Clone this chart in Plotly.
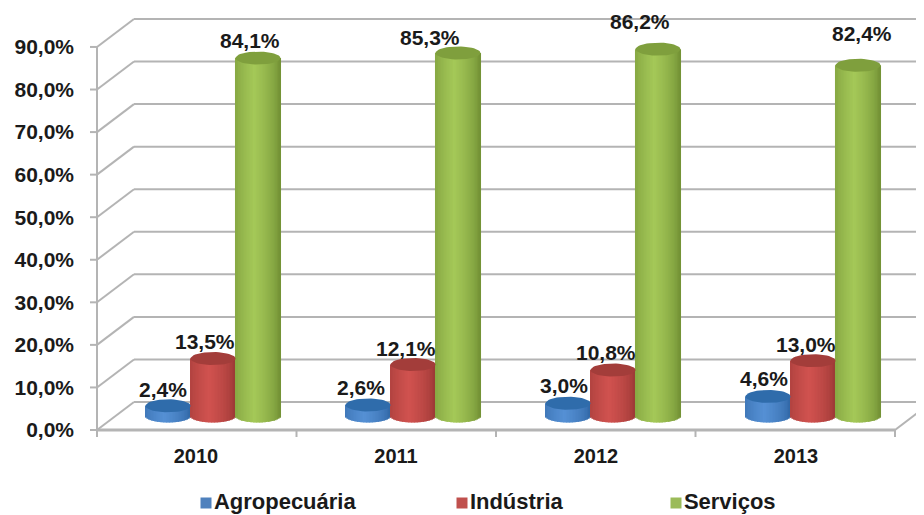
import math
import plotly.graph_objects as go

years = ["2010", "2011", "2012", "2013"]
agropecuaria = [2.4, 2.6, 3.0, 4.6]
industria = [13.5, 12.1, 10.8, 13.0]
servicos = [84.1, 85.3, 86.2, 82.4]
y_ticks = [0, 10, 20, 30, 40, 50, 60, 70, 80, 90]
y_tick_labels = ["0,0%", "10,0%", "20,0%", "30,0%", "40,0%", "50,0%", "60,0%", "70,0%", "80,0%", "90,0%"]

# The page has an 8px body margin, so the figure is 8px smaller than the window
W, H = 916, 507
PX_PER_PCT = 4.256          # vertical pixels per percentage point
PX_PER_CAT = 200.0          # horizontal pixels per category
ZERO_PX = 422
CAT0_PX = 188
dx = lambda px: px / PX_PER_CAT
dy = lambda px: px / PX_PER_PCT

FONT = "Liberation Sans"
TXT = "#1a1a1a"
GRID = "#b4b4b4"

DEPTH_X, DEPTH_Y = dx(37), dy(28)
LEFT = dx(-99)
RIGHT = dx(699)
EDGE = dx(W - CAT0_PX)

BASE = dy(ZERO_PX - 408)
SCALE = 1.0
RX, RY = dx(22.5), dy(6.5)
N = 30

series = [
    dict(name="Agropecuária", vals=agropecuaria, off=dx(-28), edge="#2c62a0", mid="#5590d4", cap="#2f6cab", sw="#4f81bd",
         key_x=dx(10), nudges=[(-5, 3), (-7, 4), (-4, 4), (-4, 4)]),
    dict(name="Indústria", vals=industria, off=dx(17), edge="#953532", mid="#d0524f", cap="#a33d3a", sw="#c0504d",
         key_x=dx(266), nudges=[(-8, 4), (-7, 3), (-7, 4), (-7, 3)]),
    dict(name="Serviços", vals=servicos, off=dx(62), edge="#6c8a30", mid="#a4c858", cap="#7f9f3d", sw="#9bbb59",
         key_x=dx(480), nudges=[(-8, 4), (-28, 2), (-18, 14), (4, 18)]),
]
KEY_Y = dy(ZERO_PX - 495)


def hex2rgb(h):
    return [int(h[i:i + 2], 16) for i in (1, 3, 5)]


def shade(c1, c2, t):
    a, b = hex2rgb(c1), hex2rgb(c2)
    return "rgb(%d,%d,%d)" % tuple(round(a[i] + (b[i] - a[i]) * t) for i in range(3))


fig = go.Figure()

for s in series:
    for k in range(N):
        u = (k + 0.5) / N * 2 - 1
        t = max(0.0, 1 - abs(u + 0.15) / 1.15) ** 0.55
        foot = RY * math.sqrt(max(0.0, 1 - u * u))
        bases = [BASE - foot] * 4
        tops = [BASE + SCALE * v for v in s["vals"]]
        fig.add_trace(go.Bar(
            x=[i + s["off"] + u * RX for i in range(4)],
            y=[tp - b for tp, b in zip(tops, bases)],
            base=bases,
            width=2 * RX / N * 1.7,
            marker=dict(color=shade(s["edge"], s["mid"], t), line=dict(width=0)),
            showlegend=False, hoverinfo="skip",
        ))

for s in series:
    for i, v in enumerate(s["vals"]):
        tp = BASE + SCALE * v
        pts = [j / 48 * 2 * math.pi for j in range(49)]
        fig.add_trace(go.Scatter(
            x=[i + s["off"] + RX * math.cos(a) for a in pts],
            y=[tp + RY * math.sin(a) for a in pts],
            mode="lines", fill="toself", fillcolor=s["cap"],
            line=dict(width=0, color=s["cap"]),
            showlegend=False, hoverinfo="skip",
        ))

BOLD = dict(family=FONT, color=TXT, weight=700)

for s in series:
    fig.add_trace(go.Scatter(
        x=[s["key_x"]], y=[KEY_Y], mode="markers+text", name=s["name"],
        text=[s["name"]], textposition="middle right",
        textfont=dict(size=22, **BOLD),
        marker=dict(symbol="square", size=11, color=s["sw"]),
        showlegend=False, hoverinfo="skip",
    ))

shapes = []


def seg(x0, y0, x1, y1, w=2, color=GRID):
    shapes.append(dict(type="line", x0=x0, y0=y0, x1=x1, y1=y1, xref="x", yref="y",
                       layer="below", line=dict(color=color, width=w)))


for v in y_ticks:
    seg(LEFT, v, LEFT + DEPTH_X, v + DEPTH_Y)
    seg(LEFT + DEPTH_X, v + DEPTH_Y, EDGE, v + DEPTH_Y)
    seg(LEFT - dx(7), v, LEFT, v)

seg(LEFT, 0, LEFT, y_ticks[-1])
seg(LEFT, 0, RIGHT, 0, w=3)
seg(RIGHT, 0, EDGE, dy(22))
for i in range(5):
    xt = LEFT + i * (RIGHT - LEFT) / 4
    seg(xt, 0, xt, -dy(7))

annotations = []
for s in series:
    for i, v in enumerate(s["vals"]):
        annotations.append(dict(
            x=i + s["off"], y=BASE + SCALE * v, xref="x", yref="y",
            text=f"{v:.1f}%".replace(".", ","), showarrow=False,
            xshift=s["nudges"][i][0], yshift=s["nudges"][i][1],
            yanchor="bottom", xanchor="center",
            font=dict(size=21, **BOLD),
        ))

fig.update_layout(
    width=W, height=H,
    margin=dict(l=0, r=0, t=0, b=0, autoexpand=False),
    paper_bgcolor="white", plot_bgcolor="white",
    barmode="overlay", shapes=shapes, annotations=annotations,
    showlegend=False,
    xaxis=dict(
        range=[-CAT0_PX / PX_PER_CAT, (W - CAT0_PX) / PX_PER_CAT],
        domain=[0, 1], anchor="free", position=(H - ZERO_PX) / H,
        tickvals=list(range(4)), ticktext=years, ticks="", ticklen=0,
        ticklabelstandoff=12,
        showgrid=False, zeroline=False, showline=False,
        tickfont=dict(size=20, **BOLD),
    ),
    yaxis=dict(
        range=[-(H - ZERO_PX) / PX_PER_PCT, ZERO_PX / PX_PER_PCT],
        domain=[0, 1], anchor="free", position=66 / W,
        tickvals=y_ticks, ticktext=y_tick_labels, ticks="",
        showgrid=False, zeroline=False, showline=False,
        tickfont=dict(size=21, **BOLD),
    ),
)

fig.write_html("out.html")
